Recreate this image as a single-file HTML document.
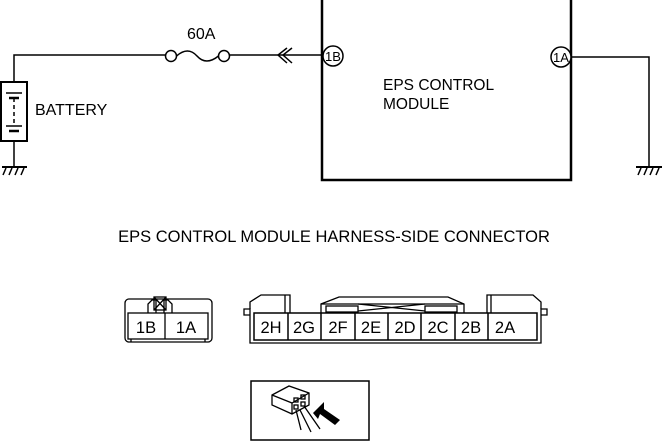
<!DOCTYPE html>
<html><head><style>body{margin:0;background:#fff}svg{display:block}</style></head>
<body>
<svg width="664" height="443" viewBox="0 0 664 443" xmlns="http://www.w3.org/2000/svg" font-family="Liberation Sans, sans-serif" fill="none" stroke="#000">
<!-- module box -->
<rect x="322" y="-2" width="249" height="182" stroke-width="2.5"/>
<text x="383" y="90" font-size="15.5" fill="#000" stroke="none">EPS CONTROL</text>
<text x="383" y="109" font-size="15.5" fill="#000" stroke="none">MODULE</text>
<!-- left wiring -->
<polyline points="14,82 14,55 166,55" stroke-width="1.5"/>
<circle cx="171" cy="56" r="5.5" stroke-width="1.5"/>
<circle cx="224" cy="56" r="5.5" stroke-width="1.5"/>
<path d="M176.5,56 Q188,46 197,56 Q206,66 218.5,56" stroke-width="1.5"/>
<line x1="229.5" y1="55" x2="323" y2="55" stroke-width="1.5"/>
<polyline points="287,48 278,55 287,63" stroke-width="1.5"/>
<polyline points="292,48 283,55 292,63" stroke-width="1.5"/>
<text x="187" y="39" font-size="16" fill="#000" stroke="none">60A</text>
<circle cx="333" cy="56" r="10" fill="#fff" stroke-width="1.5"/>
<text x="333" y="61" font-size="13" text-anchor="middle" fill="#000" stroke="none">1B</text>
<!-- battery -->
<rect x="1" y="82" width="26" height="59" stroke-width="2"/>
<line x1="6" y1="93" x2="22" y2="93" stroke-width="1.5"/>
<line x1="9" y1="98" x2="19" y2="98" stroke-width="2.5"/>
<line x1="14" y1="98" x2="14" y2="125" stroke-width="1.5" stroke-dasharray="4,3"/>
<line x1="6" y1="126" x2="22" y2="126" stroke-width="1.5"/>
<line x1="9" y1="131" x2="19" y2="131" stroke-width="2.5"/>
<line x1="14" y1="141" x2="14" y2="167" stroke-width="1.5"/>
<line x1="2" y1="167" x2="27" y2="167" stroke-width="2"/>
<path d="M6,168 L3,175 M12,168 L9,175 M18,168 L15,175 M24,168 L21,175" stroke-width="1.5"/>
<text x="35" y="115" font-size="16" fill="#000" stroke="none">BATTERY</text>
<!-- right wiring -->
<polyline points="571,57 649,57 649,167" stroke-width="1.5"/>
<line x1="636" y1="167" x2="662" y2="167" stroke-width="2"/>
<path d="M641,168 L638,175 M647,168 L644,175 M653,168 L650,175 M659,168 L656,175" stroke-width="1.5"/>
<circle cx="561" cy="57" r="10" fill="#fff" stroke-width="1.5"/>
<text x="561" y="62" font-size="13" text-anchor="middle" fill="#000" stroke="none">1A</text>
<!-- title -->
<text x="334" y="242" font-size="16.5" text-anchor="middle" fill="#000" stroke="none">EPS CONTROL MODULE HARNESS-SIDE CONNECTOR</text>
<!-- small connector -->
<g stroke-width="1.3">
<rect x="125" y="299" width="87" height="43" rx="4"/>
<rect x="128" y="313" width="80" height="26"/>
<line x1="165" y1="313" x2="165" y2="339"/>
<line x1="131" y1="339" x2="131" y2="342"/>
<line x1="205" y1="339" x2="205" y2="342"/>
<path d="M148,313 L148,304 L152,300 L156,300 L156,313 M164,313 L164,300 L168,300 L172,304 L172,313"/>
<rect x="154" y="297" width="12" height="13"/>
<path d="M154,297 L166,310 M166,297 L154,310"/>
</g>
<text x="146" y="333" font-size="16.5" text-anchor="middle" fill="#000" stroke="none">1B</text>
<text x="186" y="333" font-size="16.5" text-anchor="middle" fill="#000" stroke="none">1A</text>
<!-- big connector -->
<g stroke-width="1.3">
<path d="M250,313 L250,343 L541,343 L541,313"/>
<path d="M250,313 L250,309 L244,309 L244,315 L250,315 M541,313 L541,309 L547,309 L547,315 L541,315"/>
<path d="M250,309 L250,302 L261,295 L285,295 L285,313 M285,295 L290,295 L290,313"/>
<path d="M541,309 L541,302 L533,295 L491,295 L491,313 M491,295 L487,295 L487,313"/>
<path d="M321,313 L321,304 L339,297 L448,297 L464,304 L464,313"/>
<line x1="321" y1="304" x2="464" y2="304"/>
<rect x="326" y="306" width="32" height="6"/><rect x="425" y="306" width="32" height="6"/>
<path d="M358,304 L425,311 M358,311 L425,304"/>
</g>
<g stroke-width="1.5">
<rect x="254" y="313" width="283" height="27"/>
<line x1="288" y1="313" x2="288" y2="340"/><line x1="321" y1="313" x2="321" y2="340"/>
<line x1="355" y1="313" x2="355" y2="340"/><line x1="388" y1="313" x2="388" y2="340"/>
<line x1="421" y1="313" x2="421" y2="340"/><line x1="455" y1="313" x2="455" y2="340"/>
<line x1="488" y1="313" x2="488" y2="340"/>
</g>
<g font-size="16.5" text-anchor="middle" fill="#000" stroke="none">
<text x="271" y="333">2H</text><text x="304" y="333">2G</text><text x="338" y="333">2F</text><text x="371" y="333">2E</text>
<text x="405" y="333">2D</text><text x="438" y="333">2C</text><text x="471" y="333">2B</text><text x="505" y="333">2A</text>
</g>
<!-- icon box -->
<rect x="251" y="381" width="118" height="59" stroke-width="1.5"/>
<g stroke-width="1.3">
<path d="M272,395 L289,386 L309,393 L309,405 L292,414 L272,405 Z M272,395 L292,403 L309,393 M292,403 L292,414"/>
<rect x="294" y="398" width="4" height="4"/><rect x="301" y="395" width="4" height="4"/>
<rect x="294" y="405" width="4" height="4"/><rect x="301" y="402" width="4" height="4"/>
<path d="M296,410 L301,430 M300,410 L311,432 M304,406 L320,429"/>
</g>
<path d="M313,413 L324,402 L324,409 L340,420 L335,425 L320,414 L318,419 Z" fill="#000" stroke="none"/>
</svg>
</body></html>
